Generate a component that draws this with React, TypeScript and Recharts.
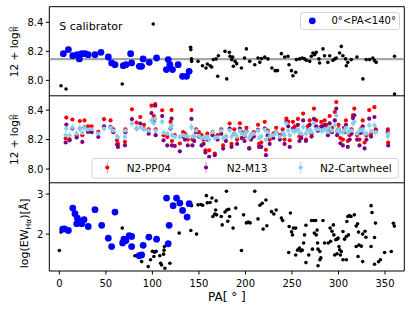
import React from 'react';
import { ScatterChart, Scatter, XAxis, YAxis, ReferenceLine, ErrorBar } from 'recharts';

const FONT = '"DejaVu Sans", Verdana, sans-serif';

// ---------- shared axis ----------
const xTicks = [0, 50, 100, 150, 200, 250, 300, 350];
const X_DOMAIN: [number, number] = [-10.8, 370.7];
const ohTicks = [8.0, 8.2, 8.4];
const ewTicks = [2, 3];
const TOP_DOMAIN: [number, number] = [7.892, 8.508];
const MID_DOMAIN: [number, number] = [7.907, 8.497];
const EW_DOMAIN: [number, number] = [1.08, 3.28];

// ---------- top panel: S calibrator [PA, 12+log(O/H)] ----------
const sMedian = 8.147;
const topBlue = [
  [4.3, 8.184], [9.7, 8.212], [14.4, 8.17], [19.3, 8.177], [21.5, 8.148], [24, 8.184], [27.6, 8.184],
  [31, 8.177], [38.3, 8.177], [44.7, 8.193], [52.6, 8.161], [56.2, 8.12], [59.8, 8.108], [68.7, 8.101],
  [71.6, 8.108], [76.6, 8.184], [77.7, 8.12], [86, 8.097], [88.4, 8.097], [90, 8.148], [96.6, 8.124],
  [104.5, 8.154], [115, 8.074], [117, 8.143], [118.8, 8.108], [121.6, 8.074], [127.7, 8.108],
  [132.4, 8.028], [136.7, 8.028], [139.5, 8.062],
];
const topBlack = [
  [1.8, 7.963], [7.2, 7.94], [67.6, 7.975], [100.9, 8.389], [141, 8.228], [141.3, 8.212], [142, 8.148],
  [142.2, 8.131], [149, 8.131], [153.8, 8.101], [157.6, 8.085], [159, 8.113], [162, 8.101], [163.7, 8.092],
  [165.5, 8.143], [168.4, 8.148], [170.2, 8.028], [170.9, 8.17], [178, 8.2], [179.9, 8.01], [182.7, 8.193],
  [183.4, 8.166], [185.2, 8.143], [186.3, 8.161], [187, 8.097], [188.8, 8.131], [190.6, 8.115],
  [195.7, 8.085], [199, 8.154], [201, 8.217], [204.6, 8.131], [210, 8.108], [213.5, 8.154], [215.4, 8.124],
  [217.2, 8.15], [220.7, 8.16], [224.2, 8.148], [228.4, 8.085], [231.9, 8.067], [234.4, 8.067],
  [238.6, 8.184], [242.2, 8.161], [245.7, 8.166], [246.8, 8.108], [249.4, 8.067], [251, 8.032], [254, 8.055],
  [254.7, 8.143], [258.2, 8.148], [261, 8.154], [263.6, 8.148], [265.4, 8.138], [269, 8.131], [270.8, 8.166],
  [272.5, 8.189], [274.3, 8.177], [276, 8.193], [279, 8.148], [279.7, 8.12], [283.3, 8.217], [285, 8.17],
  [288.6, 8.124], [290.5, 8.17], [294, 8.138], [296, 8.148], [297.6, 8.154], [301.2, 8.189], [303, 8.234],
  [304.7, 8.17], [307.6, 8.148], [308.4, 8.101], [310, 8.124], [313.7, 8.143], [319.8, 8.161], [326.2, 8.01],
  [329.8, 8.143], [333.4, 8.143], [336.9, 8.154], [338.7, 8.136], [340.5, 8.124], [360.2, 8.166], [360.2, 7.906],
];

// ---------- middle panel: [PA, N2-PP04, N2-M13, N2-Cartwheel] ----------
const errPP04 = 0.012;
const errM13 = 0.012;
const errCart = 0.025;
const midRows = [
  [6.8, 8.207, 8.18, 8.229], [7.5, 8.349, 8.302, 8.275], [11, 8.202, 8.195, 8.229], [14, 8.336, 8.275, 8.281],
  [18.6, 8.229, 8.214, 8.24], [22, 8.326, 8.275, 8.275], [24.7, 8.229, 8.184, 8.245], [27, 8.33, 8.283, 8.281],
  [30.8, 8.29, 8.252, 8.268], [34.7, 8.29, 8.25, 8.27], [41.9, 8.252, 8.218, 8.24], [48, 8.338, 8.29, 8.275],
  [55, 8.33, 8.285, 8.279], [58, 8.27, 8.25, 8.26], [62, 8.195, 8.166, 8.224], [63, 8.17, 8.15, 8.215],
  [70.5, 8.184, 8.161, 8.218], [71, 8.27, 8.25, 8.26], [78, 8.405, 8.338, 8.309], [83, 8.315, 8.275, 8.275],
  [87, 8.353, 8.309, 8.285], [91, 8.3, 8.27, 8.27], [96, 8.27, 8.24, 8.26], [99, 8.43, 8.38, 8.33],
  [101.6, 8.36, 8.33, 8.31], [103, 8.44, 8.43, 8.34], [103.5, 8.27, 8.23, 8.26], [110.5, 8.399, 8.36, 8.32],
  [112, 8.23, 8.195, 8.245], [116, 8.218, 8.16, 8.24], [119.5, 8.32, 8.275, 8.28], [120.6, 8.4, 8.342, 8.297],
  [121, 8.19, 8.16, 8.23], [124, 8.23, 8.157, 8.22], [129.5, 8.173, 8.12, 8.218], [133, 8.25, 8.22, 8.23],
  [135, 8.24, 8.2, 8.225], [138, 8.2, 8.16, 8.22], [142, 8.4, 8.34, 8.285], [143, 8.2, 8.16, 8.22],
  [145, 8.22, 8.19, 8.22], [147, 8.27, 8.25, 8.26], [150, 8.25, 8.22, 8.225], [152.8, 8.23, 8.16, 8.21],
  [155, 8.2, 8.17, 8.215], [157, 8.127, 8.112, 8.207], [159, 8.24, 8.2, 8.22], [161, 8.127, 8.082, 8.2],
  [164.6, 8.25, 8.23, 8.25], [167, 8.105, 8.094, 8.21], [170, 8.23, 8.2, 8.215], [174, 8.27, 8.24, 8.26],
  [176, 8.16, 8.139, 8.21], [179, 8.22, 8.19, 8.22], [183, 8.309, 8.275, 8.263], [185, 8.17, 8.15, 8.22],
  [188, 8.27, 8.24, 8.24], [191, 8.2, 8.17, 8.22], [194, 8.31, 8.275, 8.26], [196, 8.25, 8.21, 8.24],
  [199, 8.22, 8.19, 8.23], [201, 8.28, 8.255, 8.25], [204, 8.14, 8.14, 8.21], [206, 8.23, 8.2, 8.23],
  [209, 8.25, 8.22, 8.24], [213.5, 8.3, 8.265, 8.26], [214.6, 8.17, 8.15, 8.21], [217, 8.18, 8.15, 8.22],
  [220.7, 8.32, 8.275, 8.268], [222, 8.13, 8.094, 8.2], [224, 8.26, 8.23, 8.25], [226, 8.2, 8.17, 8.22],
  [230, 8.24, 8.21, 8.23], [233, 8.28, 8.25, 8.25], [237, 8.23, 8.2, 8.22], [240, 8.27, 8.24, 8.245],
  [242, 8.2, 8.17, 8.23], [244, 8.342, 8.32, 8.31], [246, 8.32, 8.29, 8.26], [247.6, 8.195, 8.15, 8.23],
  [251, 8.32, 8.275, 8.26], [253, 8.29, 8.26, 8.255], [256.4, 8.34, 8.3, 8.27], [258, 8.22, 8.19, 8.245],
  [260, 8.23, 8.21, 8.24], [262, 8.376, 8.33, 8.285], [265, 8.2, 8.19, 8.24], [267, 8.29, 8.265, 8.262],
  [269, 8.33, 8.3, 8.27], [271, 8.24, 8.22, 8.25], [273.6, 8.41, 8.34, 8.31], [276, 8.33, 8.29, 8.27],
  [278, 8.27, 8.26, 8.27], [281.5, 8.32, 8.29, 8.26], [283, 8.29, 8.27, 8.262], [285, 8.33, 8.3, 8.27],
  [287, 8.3, 8.27, 8.27], [288.6, 8.26, 8.23, 8.25], [290.5, 8.36, 8.31, 8.28], [293, 8.28, 8.25, 8.26],
  [296, 8.387, 8.33, 8.297], [297.6, 8.455, 8.41, 8.365], [298.5, 8.26, 8.23, 8.26], [300, 8.3, 8.27, 8.265],
  [302, 8.21, 8.175, 8.25], [304.7, 8.2, 8.16, 8.25], [306, 8.28, 8.25, 8.262], [308, 8.33, 8.3, 8.28],
  [310, 8.19, 8.15, 8.245], [312, 8.23, 8.2, 8.26], [314, 8.27, 8.24, 8.26], [315.5, 8.365, 8.346, 8.31],
  [317, 8.41, 8.365, 8.32], [320, 8.23, 8.2, 8.24], [322.6, 8.2, 8.16, 8.26], [324, 8.27, 8.245, 8.262],
  [326, 8.33, 8.29, 8.27], [328, 8.18, 8.14, 8.24], [330, 8.23, 8.2, 8.24], [333, 8.4, 8.342, 8.297],
  [335, 8.24, 8.22, 8.255], [338.6, 8.42, 8.353, 8.297], [340, 8.27, 8.26, 8.25], [353, 8.27, 8.25, 8.22],
  [353.4, 8.18, 8.16, 8.24],
];

// ---------- bottom panel: [PA, log(EW_Ha)] ----------
const ewBlue = [
  [3.6, 2.125], [5.5, 2.13], [9.7, 2.09], [14.4, 2.65], [16.8, 2.51], [18.7, 2.26], [19.3, 2.4], [22.2, 2.32],
  [24, 2.26], [26.5, 2.36], [31, 2.19], [38.3, 2.61], [45.5, 2.22], [52.6, 1.9], [56.2, 1.69], [59.8, 2.55],
  [68, 1.78], [69.4, 1.875], [71.6, 1.84], [75.1, 1.96], [77.7, 1.94], [77.7, 1.69], [85.8, 1.46], [88.4, 1.48],
  [90.1, 1.72], [96.2, 1.925], [104.5, 1.875], [115.2, 2.9], [117, 1.76], [118, 2.22], [122.3, 2.71],
  [125.9, 2.9], [129.5, 2.775], [132.4, 2.59], [137.3, 2.425], [139.5, 2.76],
];
const ewBlack = [
  [0, 1.59], [1.8, 2.05], [67.6, 2.15], [81.2, 1.46], [88.4, 1.315], [95.5, 1.19], [98, 1.36], [100, 1.57],
  [101.6, 1.44], [102.5, 1.55], [104, 1.57], [108, 1.46], [108.8, 1.275], [109.8, 1.23], [112, 1.5], [112.5, 1.6],
  [113, 1.69], [113.4, 1.15], [118.8, 1.275], [128.8, 2.025], [141.3, 2.09], [142, 2.71], [147.4, 2.0], [149, 2.73],
  [152, 2.74], [154, 2.72], [158, 2.96], [159, 2.78], [162, 2.79], [164, 2.9], [165, 2.44], [167, 2.5], [168, 2.6],
  [168.5, 2.83], [169, 2.48], [174, 2.44], [175, 2.23], [178, 2.55], [179.6, 3.07], [180, 2.6], [181, 2.32],
  [182, 2.62], [183, 2.44], [186.7, 2.15], [189.6, 2.65], [195.7, 1.59], [198, 2.48], [201, 2.28], [203, 2.3],
  [205, 2.28], [210, 3.07], [213.5, 2.38], [215.5, 2.72], [218, 2.77], [219, 2.125], [222, 2.85], [223, 2.21],
  [228, 2.56], [230.5, 2.5], [233, 2.6], [238.6, 2.4], [240, 2.34], [246.5, 1.54], [247, 2.19], [248.3, 2.525],
  [249.5, 2.06], [250.5, 1.98], [251.5, 2.15], [254, 2.15], [254, 1.48], [256, 1.6], [258, 1.65], [259.5, 1.58],
  [261, 1.6], [262.5, 1.78], [263.5, 1.98], [265, 2.22], [265, 1.29], [268, 1.48], [271, 2.34], [272, 1.625],
  [273.5, 2.34], [274, 2.025], [275.5, 2.34], [276, 1.98], [277, 2.1], [277.5, 1.78], [278, 1.625], [278, 1.21],
  [280, 1.36], [280, 1.565], [281, 1.41], [283.3, 2.34], [285, 1.78], [289, 1.78], [291, 2.15], [291.5, 1.82],
  [293, 2.07], [294.5, 2.23], [295, 1.98], [295.9, 1.48], [297, 1.86], [298.4, 1.51], [298.5, 1.875], [299.5, 1.9],
  [300.5, 1.69], [301.2, 1.61], [302, 1.48], [303, 1.565], [304.8, 1.36], [304.8, 2.065], [306.5, 1.875],
  [308.4, 1.94], [308.4, 1.36], [309, 2.315], [310, 2.44], [310.7, 1.98], [311.7, 2.46], [313.4, 2.44], [317, 2.48],
  [319, 2.2], [319, 1.69], [320.5, 2.26], [321, 1.44], [321.5, 2.05], [322, 1.73], [324.5, 1.7], [326, 1.315],
  [326, 2.0], [328.5, 2.07], [329.5, 1.92], [335, 2.71], [335, 1.69], [336, 2.54], [338.7, 1.915], [338.7, 1.25],
  [339.7, 2.275], [343, 1.31], [345, 1.36], [349.5, 1.54], [356.7, 1.565], [359, 2.27], [360, 2.2],
];

// ---------- derived tables ----------
const pts = (rows: number[][]) => rows.map(([x, y]) => ({ x, y }));
const topBlueData = pts(topBlue);
const topBlackData = pts(topBlack);
const ewBlueData = pts(ewBlue);
const ewBlackData = pts(ewBlack);
const medianLineData = X_DOMAIN.map((x) => ({ x, y: sMedian }));
const pp04Data = midRows.map((r) => ({ x: r[0], y: r[1], e: errPP04 }));
const m13Data = midRows.map((r) => ({ x: r[0], y: r[2], e: errM13 }));
const cartData = midRows.map((r) => ({ x: r[0], y: r[3], e: errCart }));

const BLUE = '#0000ff';
const RED = '#ff0000';
const PURPLE = '#800080';
const SKY = '#87ceeb';

const dot = (r: number, fill: string) => (p: any) =>
  p.cx == null ? <g /> : <circle cx={p.cx} cy={p.cy} r={r} fill={fill} />;
const noDot = () => <g />;

const tickStyle = { fill: '#000', fontSize: 10, fontFamily: FONT };
const W = 412;
const M_LEFT = 0.3;
const M_RIGHT = 7.7;
const YW = 49;

const OHLabel = (props: any) => {
  const vb = props.viewBox || { y: 0, height: 0 };
  const cy = vb.y + vb.height / 2;
  return (
    <g transform={`translate(18,${cy}) rotate(-90)`}>
      <text x={-25.8} y={0} fontSize={10.5} fontFamily={FONT} fill="#000">12 + log</text>
      <text x={19.6} y={-5.4} fontSize={6} fontFamily={FONT} fill="#000">O</text>
      <line x1={19.2} x2={24.8} y1={-4.4} y2={-4.4} stroke="#000" strokeWidth={0.5} />
      <text x={19.8} y={0.4} fontSize={6} fontFamily={FONT} fill="#000">H</text>
    </g>
  );
};

const EWLabel = (props: any) => {
  const vb = props.viewBox || { y: 0, height: 0 };
  const cy = vb.y + vb.height / 2 + 6.5;
  return (
    <g transform={`translate(28,${cy}) rotate(-90)`}>
      <text x={0} y={0} textAnchor="middle" fontSize={11} fontFamily={FONT} fill="#000">
        log(EW<tspan fontSize={7.5} dy={2.5}>Hα</tspan>
        <tspan dy={-2.5}>)[Å]</tspan>
      </text>
    </g>
  );
};

const PALabel = (props: any) => {
  const vb = props.viewBox || { x: 0, y: 0, width: 0 };
  return (
    <text x={vb.x + vb.width / 2} y={vb.y + 30} textAnchor="middle" fontSize={12} fontFamily={FONT} fill="#000">
      PA[ ° ]
    </text>
  );
};

const frame = (domain: [number, number]) => [
  <ReferenceLine key="ft" y={domain[1]} stroke="#000" strokeWidth={1} ifOverflow="visible" />,
  <ReferenceLine key="fr" x={X_DOMAIN[1]} stroke="#000" strokeWidth={1} ifOverflow="visible" />,
];

export default function App() {
  return (
    <div style={{ position: 'absolute', left: 0, top: 0, width: 412, height: 313, background: '#fff', fontFamily: FONT }}>
      {/* top panel */}
      <div style={{ position: 'absolute', left: 0, top: 0 }}>
        <ScatterChart width={W} height={100} margin={{ top: 6.7, right: M_RIGHT, bottom: 4, left: M_LEFT }}>
          <XAxis dataKey="x" type="number" domain={X_DOMAIN} ticks={xTicks} allowDataOverflow height={0}
            tick={false} tickLine={false} axisLine={{ stroke: '#000' }} />
          <YAxis dataKey="y" type="number" domain={TOP_DOMAIN} ticks={ohTicks} allowDataOverflow width={YW}
            tick={tickStyle} tickSize={3.5} tickMargin={2.5} tickLine={{ stroke: '#000' }} axisLine={{ stroke: '#000' }}
            tickFormatter={(v: number) => v.toFixed(1)} label={{ content: OHLabel }} />
          <Scatter data={medianLineData} shape={noDot} line={{ stroke: '#a6a6a6', strokeWidth: 2.2 }} isAnimationActive={false} />
          <Scatter data={topBlackData} shape={dot(1.8, '#000')} isAnimationActive={false} />
          <Scatter data={topBlueData} shape={dot(3.4, BLUE)} isAnimationActive={false} />
          {frame(TOP_DOMAIN)}
        </ScatterChart>
      </div>

      {/* middle panel */}
      <div style={{ position: 'absolute', left: 0, top: 90 }}>
        <ScatterChart width={W} height={100} margin={{ top: 5.8, right: M_RIGHT, bottom: 7.3, left: M_LEFT }}>
          <XAxis dataKey="x" type="number" domain={X_DOMAIN} ticks={xTicks} allowDataOverflow height={0}
            tick={false} tickLine={false} axisLine={{ stroke: '#000' }} />
          <YAxis dataKey="y" type="number" domain={MID_DOMAIN} ticks={ohTicks} allowDataOverflow width={YW}
            tick={tickStyle} tickSize={3.5} tickMargin={2.5} tickLine={{ stroke: '#000' }} axisLine={{ stroke: '#000' }}
            tickFormatter={(v: number) => v.toFixed(1)} label={{ content: OHLabel }} />
          <Scatter data={pp04Data} shape={dot(2.1, RED)} isAnimationActive={false}>
            <ErrorBar dataKey="e" direction="y" width={0} stroke={RED} strokeOpacity={0.4} strokeWidth={1} />
          </Scatter>
          <Scatter data={m13Data} shape={dot(2.1, PURPLE)} isAnimationActive={false}>
            <ErrorBar dataKey="e" direction="y" width={0} stroke={PURPLE} strokeOpacity={0.4} strokeWidth={1} />
          </Scatter>
          <Scatter data={cartData} shape={dot(2.1, SKY)} isAnimationActive={false}>
            <ErrorBar dataKey="e" direction="y" width={0} stroke={SKY} strokeOpacity={0.7} strokeWidth={1} />
          </Scatter>
          {frame(MID_DOMAIN)}
        </ScatterChart>
      </div>

      {/* bottom panel */}
      <div style={{ position: 'absolute', left: 0, top: 180 }}>
        <ScatterChart width={W} height={133} margin={{ top: 2.8, right: M_RIGHT, bottom: 12, left: M_LEFT }}>
          <XAxis dataKey="x" type="number" domain={X_DOMAIN} ticks={xTicks} allowDataOverflow height={30}
            tick={tickStyle} tickSize={3.5} tickMargin={5} tickLine={{ stroke: '#000' }} axisLine={{ stroke: '#000' }}
            label={{ content: PALabel }} />
          <YAxis dataKey="y" type="number" domain={EW_DOMAIN} ticks={ewTicks} allowDataOverflow width={YW}
            tick={tickStyle} tickSize={3.5} tickMargin={2.5} tickLine={{ stroke: '#000' }} axisLine={{ stroke: '#000' }}
            label={{ content: EWLabel }} />
          <Scatter data={ewBlackData} shape={dot(1.8, '#000')} isAnimationActive={false} />
          <Scatter data={ewBlueData} shape={dot(3.4, BLUE)} isAnimationActive={false} />
          {frame(EW_DOMAIN)}
        </ScatterChart>
      </div>

      {/* annotations and legends */}
      <svg width={412} height={313} style={{ position: 'absolute', left: 0, top: 0, pointerEvents: 'none' }}>
        <text x={59.3} y={30} fontSize={11} fontFamily={FONT} fill="#000">S calibrator</text>

        <rect x={300.5} y={12.5} width={99} height={17} rx={2} fill="#fff" fillOpacity={0.8} stroke="#cccccc" strokeWidth={0.8} />
        <circle cx={312.3} cy={20.8} r={3.4} fill={BLUE} />
        <text x={331.5} y={24.2} fontSize={10} fontFamily={FONT} fill="#000">0°&lt;PA&lt;140°</text>

        <rect x={92} y={158.5} width={306.3} height={19.5} rx={2} fill="#fff" fillOpacity={0.8} stroke="#cccccc" strokeWidth={0.8} />
        <line x1={107.3} x2={107.3} y1={161.5} y2={173.5} stroke={RED} strokeOpacity={0.4} />
        <circle cx={107.3} cy={167.5} r={2.1} fill={RED} />
        <text x={126.7} y={171.6} fontSize={10.5} fontFamily={FONT} fill="#000">N2-PP04</text>
        <line x1={206} x2={206} y1={161.5} y2={173.5} stroke={PURPLE} strokeOpacity={0.4} />
        <circle cx={206} cy={167.5} r={2.1} fill={PURPLE} />
        <text x={226.7} y={171.6} fontSize={10.5} fontFamily={FONT} fill="#000">N2-M13</text>
        <line x1={300.7} x2={300.7} y1={161.5} y2={173.5} stroke={SKY} strokeOpacity={0.7} />
        <circle cx={300.7} cy={167.5} r={2.1} fill={SKY} />
        <text x={320} y={171.6} fontSize={10.5} fontFamily={FONT} fill="#000">N2-Cartwheel</text>
      </svg>
    </div>
  );
}
